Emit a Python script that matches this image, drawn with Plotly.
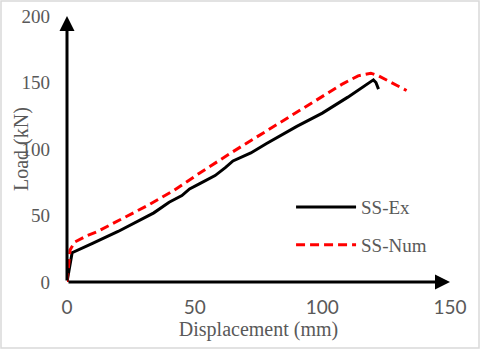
import plotly.graph_objects as go

ex_x = [0, 2, 10, 20, 34, 40, 45, 48, 52, 58, 62, 65, 72, 78, 90, 100, 110, 118, 120, 121, 122]
ex_y = [0, 22, 29, 38, 52, 60, 65, 70, 74, 80, 86, 91, 97, 104, 117, 127, 139, 149, 152, 150, 145]

num_x = [0, 1.2, 3, 8, 12, 20, 32, 42, 52, 65, 80, 90, 100, 108, 114, 119, 122, 127, 133]
num_y = [0, 24, 30, 35, 38, 46, 58, 69, 82, 98, 116, 128, 140, 149, 155, 157, 155, 150, 144]

x_ticks = [0, 50, 100, 150]
y_ticks = [0, 50, 100, 150, 200]

W, H = 480, 349
ML, MR, MT, MB = 67, 30, 16, 67
gray = "#595959"

fig = go.Figure()
fig.add_trace(go.Scatter(x=ex_x, y=ex_y, mode="lines", name="SS-Ex",
                         line=dict(color="black", width=3), legendgroup="a"))
fig.add_trace(go.Scatter(x=num_x, y=num_y, mode="lines", name="SS-Num",
                         line=dict(color="#ff0000", width=3, dash="9px,5px"), legendgroup="b"))

fig.update_layout(
    width=W, height=H,
    margin=dict(l=ML, r=MR, t=MT, b=MB, autoexpand=False),
    paper_bgcolor="white", plot_bgcolor="white",
    showlegend=True,
    legend=dict(x=0.585, y=0.21, xanchor="left", yanchor="middle",
                font=dict(family="Liberation Serif", size=19, color=gray),
                itemwidth=60, tracegroupgap=10, bgcolor="rgba(0,0,0,0)"),
    xaxis=dict(range=[0, 150], tickvals=x_ticks, showgrid=False, zeroline=False,
               showline=False, ticks="", ticklabelstandoff=12, automargin=False,
               tickfont=dict(family="Lato", size=19, color=gray),
               title=dict(text="Displacement (mm)", standoff=4,
                          font=dict(family="Liberation Serif", size=20, color=gray))),
    yaxis=dict(range=[0, 200], tickvals=y_ticks, showgrid=False, zeroline=False,
               showline=False, ticks="", ticklabelstandoff=16, automargin=False,
               tickfont=dict(family="Liberation Serif", size=19, color=gray)),
)

# axis arrows
fig.add_annotation(x=150, y=0, ax=0, ay=0, xref="x", yref="y", axref="x", ayref="y",
                   showarrow=True, arrowhead=2, arrowsize=1, arrowwidth=3, arrowcolor="black", text="")
fig.add_annotation(x=0, y=200, ax=0, ay=0, xref="x", yref="y", axref="x", ayref="y",
                   showarrow=True, arrowhead=2, arrowsize=1, arrowwidth=3, arrowcolor="black", text="")

# y title
pw = W - ML - MR
ph = H - MT - MB
fig.add_annotation(x=(21 - ML) / pw, y=0.5, xref="paper", yref="paper", showarrow=False,
                   xanchor="center", yanchor="middle",
                   text="Load (kN)", textangle=-90,
                   font=dict(family="Liberation Serif", size=20, color=gray))

# outer border
fig.add_shape(type="rect", xref="paper", yref="paper",
              x0=(1 - ML) / pw, x1=(W - 1 - ML) / pw,
              y0=-(MB - 1) / ph, y1=1 + (MT - 1) / ph,
              line=dict(color="#d9d9d9", width=1.5))

fig.write_html("out.html", config={"displayModeBar": False},
               post_script="document.body.style.margin='0';document.body.style.overflow='hidden';")
